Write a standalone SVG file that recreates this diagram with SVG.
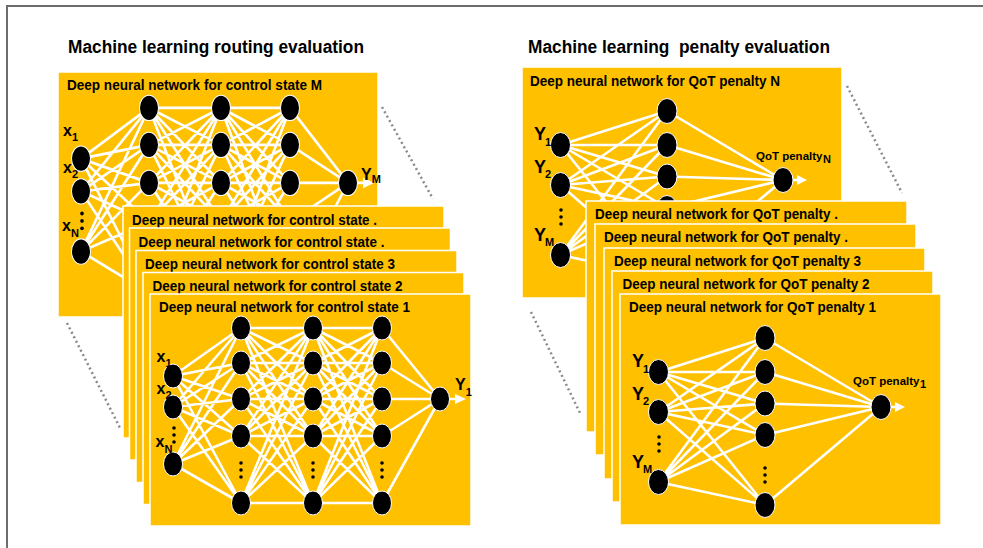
<svg xmlns="http://www.w3.org/2000/svg" xmlns:xlink="http://www.w3.org/1999/xlink" width="983" height="548" viewBox="0 0 983 548">
<style>
.pn{fill:#FFC000;stroke:#fff;stroke-width:1.5}
.t{font-family:"Liberation Sans",Arial,sans-serif;font-weight:bold;fill:#000}
.pl{font-size:14px}
.ttl{font-size:18px}
.lab{font-size:16px}
.labR{font-size:18px}
.sb{font-size:11px}
.q{font-size:11.5px}
.w{stroke:#fff;stroke-width:2.6;fill:none;stroke-linecap:round}
.nd{fill:#000;stroke:#fff;stroke-width:1}
.dd{fill:#000}
.ar{fill:#fff}
.dot{stroke:#8a8a8a;stroke-width:2.5;stroke-dasharray:2 3;fill:none}
.brd{stroke:#6d6d6d;stroke-width:2;fill:none}
</style>
<defs>
<g id="netL">
<path class="w" d="M23 82L91 34M23 82L91 69M23 82L91 105M23 82L91 142M23 82L91 209M23 113L91 34M23 113L91 69M23 113L91 105M23 113L91 142M23 113L91 209M23 170L91 34M23 170L91 69M23 170L91 105M23 170L91 142M23 170L91 209M91 34L163 34M91 34L163 69M91 34L163 105M91 34L163 142M91 34L163 209M91 69L163 34M91 69L163 69M91 69L163 105M91 69L163 142M91 69L163 209M91 105L163 34M91 105L163 69M91 105L163 105M91 105L163 142M91 105L163 209M91 142L163 34M91 142L163 69M91 142L163 105M91 142L163 142M91 142L163 209M91 209L163 34M91 209L163 69M91 209L163 105M91 209L163 142M91 209L163 209M163 34L232 34M163 34L232 69M163 34L232 105M163 34L232 142M163 34L232 209M163 69L232 34M163 69L232 69M163 69L232 105M163 69L232 142M163 69L232 209M163 105L232 34M163 105L232 69M163 105L232 105M163 105L232 142M163 105L232 209M163 142L232 34M163 142L232 69M163 142L232 105M163 142L232 142M163 142L232 209M163 209L232 34M163 209L232 69M163 209L232 105M163 209L232 142M163 209L232 209M232 34L290 105M232 69L290 105M232 105L290 105M232 142L290 105M232 209L290 105M299 105L307 105"/>
<polygon class="ar" points="305,100 316,105 305,110"/>
<ellipse class="nd" cx="23" cy="82" rx="9.5" ry="12"/>
<ellipse class="nd" cx="23" cy="113" rx="9.5" ry="12"/>
<ellipse class="nd" cx="23" cy="170" rx="9.5" ry="12"/>
<ellipse class="nd" cx="91" cy="34" rx="9.5" ry="12"/>
<ellipse class="nd" cx="91" cy="69" rx="9.5" ry="12"/>
<ellipse class="nd" cx="91" cy="105" rx="9.5" ry="12"/>
<ellipse class="nd" cx="91" cy="142" rx="9.5" ry="12"/>
<ellipse class="nd" cx="91" cy="209" rx="9.5" ry="12"/>
<ellipse class="nd" cx="163" cy="34" rx="9.5" ry="12"/>
<ellipse class="nd" cx="163" cy="69" rx="9.5" ry="12"/>
<ellipse class="nd" cx="163" cy="105" rx="9.5" ry="12"/>
<ellipse class="nd" cx="163" cy="142" rx="9.5" ry="12"/>
<ellipse class="nd" cx="163" cy="209" rx="9.5" ry="12"/>
<ellipse class="nd" cx="232" cy="34" rx="9.5" ry="12"/>
<ellipse class="nd" cx="232" cy="69" rx="9.5" ry="12"/>
<ellipse class="nd" cx="232" cy="105" rx="9.5" ry="12"/>
<ellipse class="nd" cx="232" cy="142" rx="9.5" ry="12"/>
<ellipse class="nd" cx="232" cy="209" rx="9.5" ry="12"/>
<ellipse class="nd" cx="290" cy="105" rx="9.5" ry="12"/>
<circle class="dd" cx="24" cy="134" r="1.8"/><circle class="dd" cx="24" cy="141" r="1.8"/><circle class="dd" cx="24" cy="148" r="1.8"/>
<circle class="dd" cx="91" cy="169" r="1.8"/><circle class="dd" cx="91" cy="176" r="1.8"/><circle class="dd" cx="91" cy="183" r="1.8"/>
<circle class="dd" cx="163" cy="169" r="1.8"/><circle class="dd" cx="163" cy="176" r="1.8"/><circle class="dd" cx="163" cy="183" r="1.8"/>
<circle class="dd" cx="232" cy="169" r="1.8"/><circle class="dd" cx="232" cy="176" r="1.8"/><circle class="dd" cx="232" cy="183" r="1.8"/>
</g>
<g id="netR">
<path class="w" d="M38.5 78L145 44M38.5 78L145 78M38.5 78L145 109.5M38.5 78L145 141M38.5 78L145 211M38.5 118L145 44M38.5 118L145 78M38.5 118L145 109.5M38.5 118L145 141M38.5 118L145 211M38.5 188L145 44M38.5 188L145 78M38.5 188L145 109.5M38.5 188L145 141M38.5 188L145 211M145 44L261 113M145 78L261 113M145 109.5L261 113M145 141L261 113M145 211L261 113M270 113L277 113"/>
<polygon class="ar" points="275,108 285,113 275,118"/>
<ellipse class="nd" cx="38.5" cy="78" rx="10" ry="12.5"/>
<ellipse class="nd" cx="38.5" cy="118" rx="10" ry="12.5"/>
<ellipse class="nd" cx="38.5" cy="188" rx="10" ry="12.5"/>
<ellipse class="nd" cx="145" cy="44" rx="10" ry="12.5"/>
<ellipse class="nd" cx="145" cy="78" rx="10" ry="12.5"/>
<ellipse class="nd" cx="145" cy="109.5" rx="10" ry="12.5"/>
<ellipse class="nd" cx="145" cy="141" rx="10" ry="12.5"/>
<ellipse class="nd" cx="145" cy="211" rx="10" ry="12.5"/>
<ellipse class="nd" cx="261" cy="113" rx="10" ry="12.5"/>
<circle class="dd" cx="39" cy="143" r="1.8"/><circle class="dd" cx="39" cy="150" r="1.8"/><circle class="dd" cx="39" cy="157" r="1.8"/>
<circle class="dd" cx="145" cy="174" r="1.8"/><circle class="dd" cx="145" cy="181" r="1.8"/><circle class="dd" cx="145" cy="188" r="1.8"/>
</g>
<g id="labY">
<text class="t labR" x="12" y="73">Y<tspan class="sb" dx="-1" dy="5.5">1</tspan></text>
<text class="t labR" x="12" y="105.5">Y<tspan class="sb" dx="-1" dy="5.5">2</tspan></text>
<text class="t labR" x="12" y="173.5">Y<tspan class="sb" dx="-1" dy="5.5">M</tspan></text>
</g>
</defs>

<g id="border">
<path class="brd" d="M7 549V6H984"/>
</g>

<text id="title-left" class="t ttl" x="68" y="53" textLength="296" lengthAdjust="spacingAndGlyphs">Machine learning routing evaluation</text>
<text id="title-right" class="t ttl" x="528" y="53" textLength="302" lengthAdjust="spacingAndGlyphs" xml:space="preserve">Machine learning  penalty evaluation</text>

<!-- Left stack -->
<g id="panel-M">
<rect class="pn" x="58" y="72" width="320" height="245"/>
<text class="t pl" x="67" y="90" textLength="255" lengthAdjust="spacingAndGlyphs">Deep neural network for control state M</text>
<use xlink:href="#netL" transform="translate(58,72) scale(1,1.056)"/>
<text class="t lab" x="63" y="136">x<tspan class="sb" dy="5">1</tspan></text>
<text class="t lab" x="63" y="173">x<tspan class="sb" dy="5">2</tspan></text>
<text class="t lab" x="62" y="231">x<tspan class="sb" dy="6">N</tspan></text>
<text class="t lab" x="361" y="180">Y<tspan class="sb" dy="3">M</tspan></text>
</g>
<g id="panel-L5">
<rect class="pn" x="123" y="206" width="321" height="232"/>
<text class="t pl" x="132" y="224.5" textLength="245" lengthAdjust="spacingAndGlyphs">Deep neural network for control state .</text>
<use xlink:href="#netL" x="123" y="206"/>
</g>
<g id="panel-L4">
<rect class="pn" x="129.5" y="228" width="321" height="232"/>
<text class="t pl" x="138.5" y="246.5" textLength="246" lengthAdjust="spacingAndGlyphs">Deep neural network for control state .</text>
<use xlink:href="#netL" x="129.5" y="228"/>
</g>
<g id="panel-L3">
<rect class="pn" x="136" y="250.5" width="321" height="232"/>
<text class="t pl" x="145" y="268.5" textLength="250" lengthAdjust="spacingAndGlyphs">Deep neural network for control state 3</text>
<use xlink:href="#netL" x="136" y="250.5"/>
</g>
<g id="panel-L2">
<rect class="pn" x="143" y="272.5" width="321" height="232"/>
<text class="t pl" x="152.5" y="290.5" textLength="250" lengthAdjust="spacingAndGlyphs">Deep neural network for control state 2</text>
<use xlink:href="#netL" x="143" y="272.5"/>
</g>
<g id="panel-L1">
<rect class="pn" x="150" y="294" width="321" height="232"/>
<text class="t pl" x="159" y="311.5" textLength="251" lengthAdjust="spacingAndGlyphs">Deep neural network for control state 1</text>
<use xlink:href="#netL" x="150" y="294"/>
<text class="t lab" x="156.5" y="361.5">x<tspan class="sb" dy="5">1</tspan></text>
<text class="t lab" x="156.5" y="394">x<tspan class="sb" dy="5">2</tspan></text>
<text class="t lab" x="155.5" y="446.5">x<tspan class="sb" dy="6">N</tspan></text>
<text class="t lab" x="455" y="390">Y<tspan class="sb" dy="6">1</tspan></text>
</g>

<!-- Right stack -->
<g id="panel-N">
<rect class="pn" x="522" y="67" width="320" height="231"/>
<text class="t pl" x="530" y="85.5" textLength="250" lengthAdjust="spacingAndGlyphs">Deep neural network for QoT penalty N</text>
<use xlink:href="#netR" x="522" y="67"/>
<use xlink:href="#labY" x="522" y="67"/>
<text class="t q" x="756" y="160">QoT penalty<tspan class="sb" dx="0.5" dy="3">N</tspan></text>
</g>
<g id="panel-R5">
<rect class="pn" x="586" y="201" width="321" height="231"/>
<text class="t pl" x="595" y="218.5" textLength="243" lengthAdjust="spacingAndGlyphs">Deep neural network for QoT penalty .</text>
<use xlink:href="#netR" x="586" y="201"/>
</g>
<g id="panel-R4">
<rect class="pn" x="595" y="224" width="321" height="231"/>
<text class="t pl" x="604" y="241.5" textLength="244" lengthAdjust="spacingAndGlyphs">Deep neural network for QoT penalty .</text>
<use xlink:href="#netR" x="595" y="224"/>
</g>
<g id="panel-R3">
<rect class="pn" x="604" y="248" width="321" height="231"/>
<text class="t pl" x="614" y="265.5" textLength="247" lengthAdjust="spacingAndGlyphs">Deep neural network for QoT penalty 3</text>
<use xlink:href="#netR" x="604" y="248"/>
</g>
<g id="panel-R2">
<rect class="pn" x="612" y="271" width="321" height="231"/>
<text class="t pl" x="622.5" y="288.5" textLength="247" lengthAdjust="spacingAndGlyphs">Deep neural network for QoT penalty 2</text>
<use xlink:href="#netR" x="612" y="271"/>
</g>
<g id="panel-R1">
<rect class="pn" x="620" y="294" width="321" height="231"/>
<text class="t pl" x="629" y="311.5" textLength="247" lengthAdjust="spacingAndGlyphs">Deep neural network for QoT penalty 1</text>
<use xlink:href="#netR" x="620" y="294"/>
<use xlink:href="#labY" x="620" y="294"/>
<text class="t q" x="853" y="385">QoT penalty<tspan class="sb" dx="0.5" dy="3">1</tspan></text>
</g>

<g id="connectors">
<path class="dot" d="M382 107L433 199"/>
<path class="dot" d="M67 323L121 430"/>
<path class="dot" d="M847 86L902 193"/>
<path class="dot" d="M531 312L581 415"/>
</g>
</svg>
